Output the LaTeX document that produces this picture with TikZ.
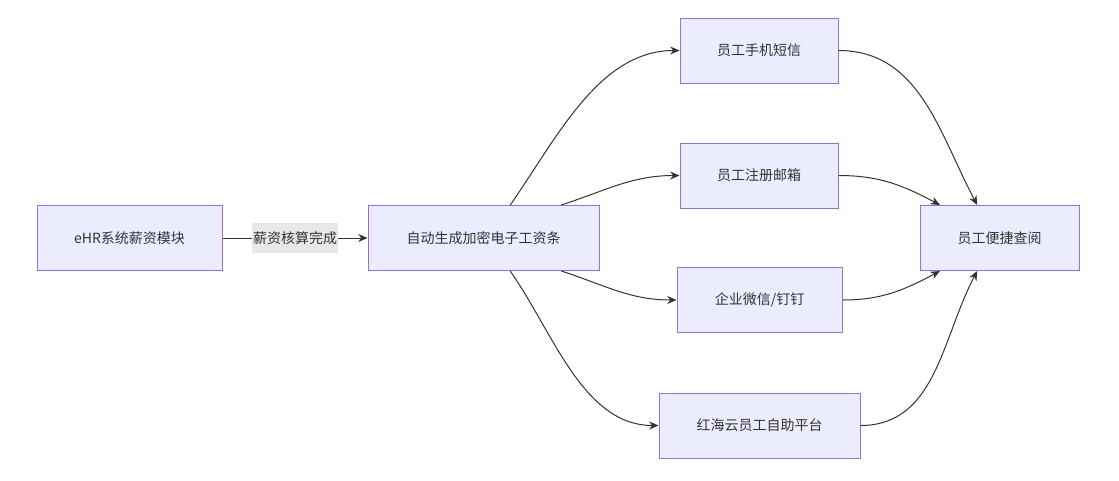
\documentclass[tikz,border=0pt]{standalone}
\usepackage{fontspec}
\setmainfont{Noto Sans CJK SC}
\usetikzlibrary{arrows.meta}
\definecolor{boxfill}{HTML}{ECECFF}
\definecolor{boxline}{HTML}{9370DB}
\definecolor{ink}{HTML}{333333}
\definecolor{labelbg}{HTML}{E8E8E8}
\begin{document}
\begin{tikzpicture}[x=0.75pt, y=-0.75pt,
    box/.style={draw=boxline, fill=boxfill, line width=0.75pt, text=ink,
        minimum height=48.75pt, font=\fontsize{10.5}{12}\selectfont},
    flow/.style={draw=ink, line width=0.75pt, -{Stealth[length=7pt, width=6pt]}}]
    \useasboundingbox (0, 0) rectangle (1119, 480);
    \node[box, minimum width=138.75pt] (ehr) at (129.5, 238) {eHR系统薪资模块};
    \node[box, minimum width=173.25pt] (slip) at (483.5, 238) {自动生成加密电子工资条};
    \node[box, minimum width=118.5pt] (sms) at (759, 50.5) {员工手机短信};
    \node[box, minimum width=118.5pt] (mail) at (759, 175.5) {员工注册邮箱};
    \node[box, minimum width=123.75pt] (im) at (759.5, 300) {企业微信/钉钉};
    \node[box, minimum width=150.75pt] (self) at (759.5, 425.5) {红海云员工自助平台};
    \node[box, minimum width=119.25pt] (view) at (999.5, 238) {员工便捷查阅};
    \draw[flow] (ehr) -- (slip) node[midway, fill=labelbg, text=ink, inner xsep=1pt, inner ysep=6pt,
        font=\fontsize{10.5}{12}\selectfont] {薪资核算完成};
    \draw[flow] (slip.51) to[out=55, in=180, looseness=0.9] (sms.west);
    \draw[flow] (slip.23) to[out=18, in=180] (mail.west);
    \draw[flow] (slip.-23) to[out=-18, in=180] (im.west);
    \draw[flow] (slip.-51) to[out=-55, in=180, looseness=0.9] (self.west);
    \draw[flow] (sms.east) to[out=0, in=118] (view.124);
    \draw[flow] (mail.east) to[out=0, in=152] (view.151);
    \draw[flow] (im.east) to[out=0, in=208] (view.209);
    \draw[flow] (self.east) to[out=0, in=242] (view.236);
\end{tikzpicture}
\end{document}
